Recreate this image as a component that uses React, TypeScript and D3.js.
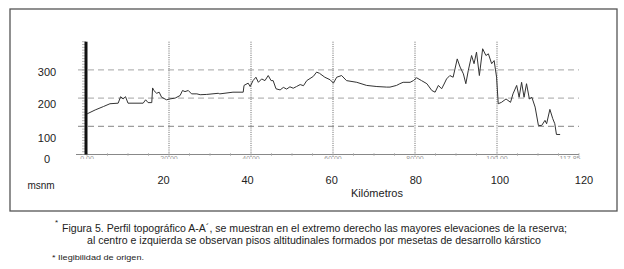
import React from "react";
import * as d3 from "d3";

// ---- data ----
const profileKm: number[] = [
  0, 2.0, 4.0, 5.6, 7.6, 8.2, 8.8, 9.4, 10.0, 13.7, 14.3, 14.9, 15.8, 16.0, 16.3, 17.0, 17.6, 18.2, 19.4,
  20.2, 21.5, 22.7, 23.3, 23.9, 24.7, 25.5, 26.8, 27.6, 29.2, 32.0, 32.4, 35.6, 38.1, 38.3, 39.3, 39.8,
  40.5, 41.2, 41.8, 42.6, 43.4, 44.2, 44.9, 45.4, 46.1, 47.1, 47.9, 48.7, 49.5, 50.3, 51.1, 52.0, 52.8,
  53.6, 55.2, 56.0, 56.7, 58.0, 59.3, 60.1, 60.9, 62.1, 63.3, 65.8, 68.2, 70.7, 73.1, 73.9, 75.5, 76.3,
  77.1, 78.8, 79.6, 80.4, 81.6, 82.9, 84.1, 84.9, 85.7, 86.5, 87.1, 87.7, 88.5, 89.3, 90.3, 91.0, 91.8,
  92.4, 93.0, 93.8, 94.4, 95.0, 95.7, 96.5, 97.3, 97.9, 98.7, 99.3, 99.9, 100.3, 101.1, 102.2, 103.3,
  103.9, 104.8, 105.4, 106.0, 106.6, 107.2, 107.9, 108.5, 109.3, 110.1, 110.9, 111.7, 112.1, 112.9,
  113.6, 114.1, 114.5, 115.4,
];
const profileElev: number[] = [
  144, 158, 170, 180, 182, 205, 197, 205, 182, 182, 194, 184, 184, 236, 227, 217, 221, 203, 194,
  197, 200, 209, 227, 223, 227, 215, 215, 212, 213, 217, 215, 221, 221, 245, 253, 241,
  262, 274, 256, 268, 262, 280, 262, 262, 233, 229, 238, 232, 240, 235, 241, 248, 244,
  262, 277, 292, 288, 274, 265, 253, 274, 280, 262, 256, 245, 241, 239, 239, 245, 251,
  256, 256, 262, 272, 262, 251, 227, 221, 245, 233, 250, 268, 280, 274, 339, 310, 286,
  251, 298, 351, 322, 363, 280, 375, 351, 357, 322, 333, 274, 180, 185, 197, 185,
  215, 245, 203, 256, 203, 251, 197, 203, 168, 103, 103, 121, 109, 160,
  127, 109, 71, 71,
];

const gridElev: number[] = [100, 200, 300];
const gridKm: number[] = [20, 40, 60, 80, 100];
const innerTickKm: number[] = [0, 20, 40, 60, 80, 100, 117.8];
const innerTickLabels: string[] = ["0.00", "20.00", "40.00", "60.00", "80.00", "100.00", "117.85"];
const outerXTicks: number[] = [20, 40, 60, 80, 100, 120];
const outerYTicks: number[] = [0, 100, 200, 300];

const captionLine1 = "Figura 5. Perfil topográfico A-A´, se muestran en el extremo derecho las mayores elevaciones de la reserva;";
const captionLine2 = "al centro e izquierda se observan pisos altitudinales formados por mesetas de desarrollo kárstico";
const footnote = "* Ilegibilidad de origen.";

export default function App() {
  const x = d3.scaleLinear().domain([0, 120]).range([87, 579]);
  const y = d3.scaleLinear().domain([0, 400]).range([154.5, 41.7]);
  const xOuter = d3.scaleLinear().domain([20, 120]).range([163.5, 584]);
  const yOuter = d3.scaleLinear().domain([0, 100, 200, 300]).range([162.7, 141.7, 108.3, 76]);

  const line = d3
    .line<number>()
    .x((_, i) => x(profileKm[i]))
    .y((d) => y(d))
    .curve(d3.curveLinear);

  const minorTicks = d3.range(0, 401, 10);
  const bottomTicks = d3.range(0, 121, 5);
  const font = "'Liberation Sans', Arial, sans-serif";

  return (
    <svg
      width={624}
      height={269}
      style={{ position: "absolute", left: 0, top: 0, background: "#fff" }}
      fontFamily={font}
    >
      <defs>
        <clipPath id="tickclip">
          <rect x={60} y={155} width={540} height={4} />
        </clipPath>
      </defs>
      {/* frame */}
      <rect x={10} y={9} width={607} height={202} fill="none" stroke="#555" strokeWidth={1.3} />

      {/* horizontal dashed grid */}
      {gridElev.map((v) => (
        <line
          key={"h" + v}
          x1={78}
          x2={579}
          y1={y(v)}
          y2={y(v)}
          stroke={v === 100 ? "#777" : "#9a9a9a"}
          strokeWidth={0.9}
          strokeDasharray="6,4"
        />
      ))}
      {/* vertical dotted grid */}
      {gridKm.map((v) => (
        <line
          key={"v" + v}
          x1={x(v)}
          x2={x(v)}
          y1={y(400)}
          y2={157}
          stroke="#555"
          strokeWidth={0.9}
          strokeDasharray="1,1.2"
        />
      ))}

      {/* bottom axis */}
      <line x1={76} x2={579} y1={y(0)} y2={y(0)} stroke="#888" strokeWidth={1} />
      {bottomTicks.map((v) => (
        <line key={"bt" + v} x1={x(v)} x2={x(v)} y1={y(0) - 1.5} y2={y(0) + 1.5} stroke="#aaa" strokeWidth={0.7} />
      ))}
      <g clipPath="url(#tickclip)">
        {innerTickKm.map((v, i) => (
          <text key={"it" + v} x={x(v)} y={161} fontSize={7} fill="#999" textAnchor="middle">
            {innerTickLabels[i]}
          </text>
        ))}
      </g>

      {/* y axis thick with minor ticks */}
      {minorTicks.map((v) => (
        <line key={"mt" + v} x1={82} x2={86} y1={y(v)} y2={y(v)} stroke="#999" strokeWidth={0.7} />
      ))}
      <line x1={86} x2={86} y1={y(400)} y2={y(0)} stroke="#111" strokeWidth={3} />

      {/* profile */}
      <path d={line(profileElev) || ""} fill="none" stroke="#333" strokeWidth={1} strokeLinejoin="round" />

      {/* outer labels */}
      {outerYTicks.map((v) => (
        <text key={"oy" + v} x={47} y={yOuter(v)} fontSize={11} fill="#222" textAnchor="middle">
          {v}
        </text>
      ))}
      <text x={41} y={189} fontSize={10} fill="#222" textAnchor="middle">msnm</text>
      {outerXTicks.map((v) => (
        <text key={"ox" + v} x={xOuter(v)} y={184} fontSize={11} fill="#222" textAnchor="middle">
          {v}
        </text>
      ))}
      <text x={377} y={196.5} fontSize={11} fill="#222" textAnchor="middle">Kilómetros</text>

      {/* caption */}
      <text x={55} y={225} fontSize={8} fill="#222">*</text>
      <text x={62} y={232} fontSize={10} fill="#222" textLength={505} lengthAdjust="spacingAndGlyphs">
        {captionLine1}
      </text>
      <text x={87} y={244} fontSize={10} fill="#222" textLength={454} lengthAdjust="spacingAndGlyphs">
        {captionLine2}
      </text>
      <text x={52} y={260} fontSize={8} fill="#222" textLength={92} lengthAdjust="spacingAndGlyphs">
        {footnote}
      </text>
    </svg>
  );
}
